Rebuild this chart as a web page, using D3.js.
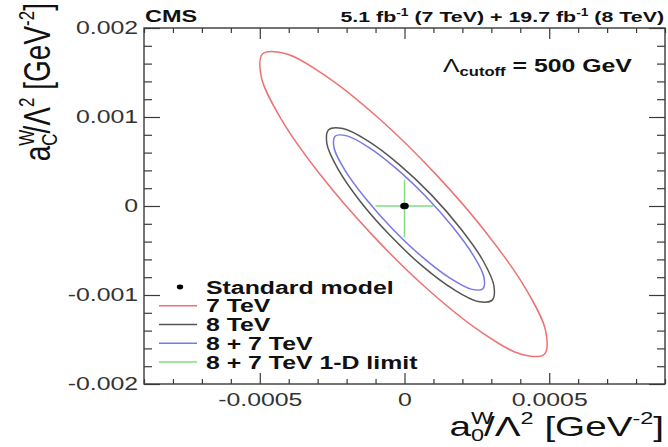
<!DOCTYPE html>
<html>
<head>
<meta charset="utf-8">
<script src="https://cdn.jsdelivr.net/npm/d3@7"></script>
<style>
  body { margin: 0; background: #fff; }
  svg { display: block; }
</style>
</head>
<body>
<svg id="chart" width="668" height="447"></svg>
<script>
// contour points, [a0W/L^2, acW/L^2] in GeV^-2
var contour7TeV = [
  [0.000483, -0.001665], [0.000403, -0.001666], [0.000262, -0.001410], [0.000080, -0.000936],
  [-0.000114, -0.000316], [-0.000292, 0.000356], [-0.000426, 0.000976], [-0.000495, 0.001453],
  [-0.000490, 0.001710], [-0.000410, 0.001711], [-0.000269, 0.001455], [-0.000087, 0.000981],
  [0.000107, 0.000361], [0.000285, -0.000311], [0.000419, -0.000931], [0.000488, -0.001408]
];
var contour8TeV = [
  [0.000303, -0.001058], [0.000254, -0.001072], [0.000170, -0.000938], [0.000062, -0.000676],
  [-0.000051, -0.000327], [-0.000154, 0.000056], [-0.000230, 0.000416], [-0.000268, 0.000697],
  [-0.000262, 0.000856], [-0.000213, 0.000870], [-0.000128, 0.000735], [-0.000021, 0.000474],
  [0.000093, 0.000125], [0.000195, -0.000259], [0.000272, -0.000618], [0.000309, -0.000899]
];
var contour87TeV = [
  [0.000271, -0.000930], [0.000230, -0.000934], [0.000156, -0.000808], [0.000060, -0.000569],
  [-0.000042, -0.000255], [-0.000135, 0.000087], [-0.000206, 0.000404], [-0.000243, 0.000649],
  [-0.000240, 0.000784], [-0.000199, 0.000788], [-0.000125, 0.000662], [-0.000029, 0.000423],
  [0.000073, 0.000109], [0.000166, -0.000233], [0.000237, -0.000551], [0.000274, -0.000795]
];
var smPoint = [0, 0];
var limitX = [-0.0001, 0.0001];     // 1-D limit on a0
var limitY = [-0.00035, 0.00029];   // 1-D limit on aC

var xMajorTicks = [-0.0005, 0, 0.0005];
var yMajorTicks = [-0.002, -0.001, 0, 0.001, 0.002];

var legendLabels = ["Standard model", "7 TeV", "8 TeV", "8 + 7 TeV", "8 + 7 TeV 1-D limit"];

var colRed = "#ee7272", colBlack = "#555", colBlue = "#7878e8", colGreen = "#80de80";
var FONT = "'Liberation Sans', Arial, Helvetica, sans-serif";
var SX = 1.38;   // the picture is stretched sideways

var svg = d3.select("#chart");

var x = d3.scaleLinear().domain([-0.0009, 0.0009]).range([144, 665]);
var y = d3.scaleLinear().domain([-0.002, 0.002]).range([384, 28]);

var xMinorTicks = d3.range(-9, 10).map(function(i){ return i * 1e-4; })
  .filter(function(d){ return xMajorTicks.indexOf(+d.toFixed(4)) < 0; });
var yMinorTicks = d3.range(-10, 11).map(function(i){ return i * 2e-4; })
  .filter(function(d){ return yMajorTicks.indexOf(+d.toFixed(4)) < 0; });

// axes, ticks pointing inwards on all four sides
function styleAxis(g){
  g.select(".domain").remove();
  g.selectAll(".tick line").attr("stroke", "#3a3a3a").attr("stroke-width", 1.2);
  g.selectAll("text").attr("font-family", FONT).attr("font-size", 18).attr("fill", "#333")
    .attr("transform", "scale(" + SX + ",1)");
}
function fmt(d){ return String(+d.toFixed(4)); }

svg.append("g").attr("transform", "translate(0," + y.range()[0] + ")")
  .call(d3.axisBottom(x).tickValues(xMajorTicks).tickSizeInner(-11).tickSizeOuter(0).tickPadding(9).tickFormat(fmt))
  .call(styleAxis);
svg.append("g").attr("transform", "translate(0," + y.range()[0] + ")")
  .call(d3.axisBottom(x).tickValues(xMinorTicks).tickSizeInner(-5).tickSizeOuter(0).tickFormat(""))
  .call(styleAxis);
svg.append("g").attr("transform", "translate(0," + y.range()[1] + ")")
  .call(d3.axisTop(x).tickValues(xMajorTicks).tickSizeInner(-11).tickSizeOuter(0).tickFormat(""))
  .call(styleAxis);
svg.append("g").attr("transform", "translate(0," + y.range()[1] + ")")
  .call(d3.axisTop(x).tickValues(xMinorTicks).tickSizeInner(-5).tickSizeOuter(0).tickFormat(""))
  .call(styleAxis);

svg.append("g").attr("transform", "translate(" + x.range()[0] + ",0)")
  .call(d3.axisLeft(y).tickValues(yMajorTicks).tickSizeInner(-16).tickSizeOuter(0).tickPadding(4.3).tickFormat(fmt))
  .call(styleAxis);
svg.append("g").attr("transform", "translate(" + x.range()[0] + ",0)")
  .call(d3.axisLeft(y).tickValues(yMinorTicks).tickSizeInner(-8).tickSizeOuter(0).tickFormat(""))
  .call(styleAxis);
svg.append("g").attr("transform", "translate(" + x.range()[1] + ",0)")
  .call(d3.axisRight(y).tickValues(yMajorTicks).tickSizeInner(-16).tickSizeOuter(0).tickFormat(""))
  .call(styleAxis);
svg.append("g").attr("transform", "translate(" + x.range()[1] + ",0)")
  .call(d3.axisRight(y).tickValues(yMinorTicks).tickSizeInner(-8).tickSizeOuter(0).tickFormat(""))
  .call(styleAxis);

svg.append("rect")
  .attr("x", x.range()[0]).attr("y", y.range()[1])
  .attr("width", x.range()[1] - x.range()[0]).attr("height", y.range()[0] - y.range()[1])
  .attr("fill", "none").attr("stroke", "#3a3a3a").attr("stroke-width", 1.4);

// contours
var line = d3.line()
  .x(function(d){ return x(d[0]); })
  .y(function(d){ return y(d[1]); })
  .curve(d3.curveCatmullRomClosed.alpha(0.5));

[[contour7TeV, colRed], [contour8TeV, colBlack], [contour87TeV, colBlue]].forEach(function(c){
  svg.append("path").attr("d", line(c[0]))
    .attr("fill", "none").attr("stroke", c[1]).attr("stroke-width", 1.5);
});

svg.append("line")
  .attr("x1", x(limitX[0])).attr("x2", x(limitX[1]))
  .attr("y1", y(smPoint[1])).attr("y2", y(smPoint[1]))
  .attr("stroke", colGreen).attr("stroke-width", 1.5);
svg.append("line")
  .attr("x1", x(smPoint[0])).attr("x2", x(smPoint[0]))
  .attr("y1", y(limitY[0])).attr("y2", y(limitY[1]))
  .attr("stroke", colGreen).attr("stroke-width", 1.5);
svg.append("ellipse")
  .attr("cx", x(smPoint[0])).attr("cy", y(smPoint[1]))
  .attr("rx", 4.3).attr("ry", 3.2).attr("fill", "#000");

// text helper: parts = [text, size, dy, weight]
function richText(px, py, anchor, parts, transform){
  var t = svg.append("text")
    .attr("transform", transform || ("translate(" + px + "," + py + ") scale(" + SX + ",1)"))
    .attr("text-anchor", anchor).attr("font-family", FONT).attr("fill", "#111");
  var spans = parts.map(function(p){
    var s = t.append("tspan").text(p.t).attr("font-size", p.size);
    if (p.dy) s.attr("dy", p.dy);
    if (p.bold) s.attr("font-weight", "bold");
    return s;
  });
  parts.forEach(function(p, i){
    if (p.stackBack) spans[i].attr("dx", -spans[i - 1].node().getComputedTextLength());
  });
  return t;
}

// header
richText(145, 22, "start", [{t: "CMS", size: 17, bold: true}]);
richText(664, 22, "end", [
  {t: "5.1 fb", size: 15.5, bold: true},
  {t: "-1", size: 10, dy: -6, bold: true},
  {t: " (7 TeV) + 19.7 fb", size: 15.5, dy: 6, bold: true},
  {t: "-1", size: 10, dy: -6, bold: true},
  {t: " (8 TeV)", size: 15.5, dy: 6, bold: true}
]);
richText(443, 72, "start", [
  {t: "\u039B", size: 18},
  {t: "cutoff", size: 12, dy: 4, bold: true},
  {t: " = 500 GeV", size: 18, dy: -4, bold: true}
]);

// axis titles
function titleParts(sub){
  return [
    {t: "a", size: 28},
    {t: "W", size: 17, dy: -12},
    {t: sub, size: 17, dy: 17, stackBack: true},
    {t: "/\u039B", size: 28, dy: -5},
    {t: "2", size: 17, dy: -12},
    {t: " [GeV", size: 28, dy: 12},
    {t: "-2", size: 17, dy: -12},
    {t: "]", size: 28, dy: 12}
  ];
}
richText(664, 436, "end", titleParts("0"));
richText(0, 0, "end", titleParts("C"), "translate(50,3) rotate(-90) scale(1,1.3)");

// legend
var legendRow = d3.scaleLinear().domain([0, 4]).range([287, 362]);
var legendMarks = [null, colRed, colBlack, colBlue, colGreen];
legendLabels.forEach(function(lbl, i){
  var yy = legendRow(i);
  if (i === 0) {
    svg.append("ellipse").attr("cx", 180).attr("cy", yy).attr("rx", 3.2).attr("ry", 2.4).attr("fill", "#000");
  } else {
    svg.append("line").attr("x1", 159).attr("x2", 197).attr("y1", yy).attr("y2", yy)
      .attr("stroke", legendMarks[i]).attr("stroke-width", 1.5);
  }
  richText(206, yy + 6.5, "start", [{t: lbl, size: 18, bold: true}]);
});
</script>
</body>
</html>
